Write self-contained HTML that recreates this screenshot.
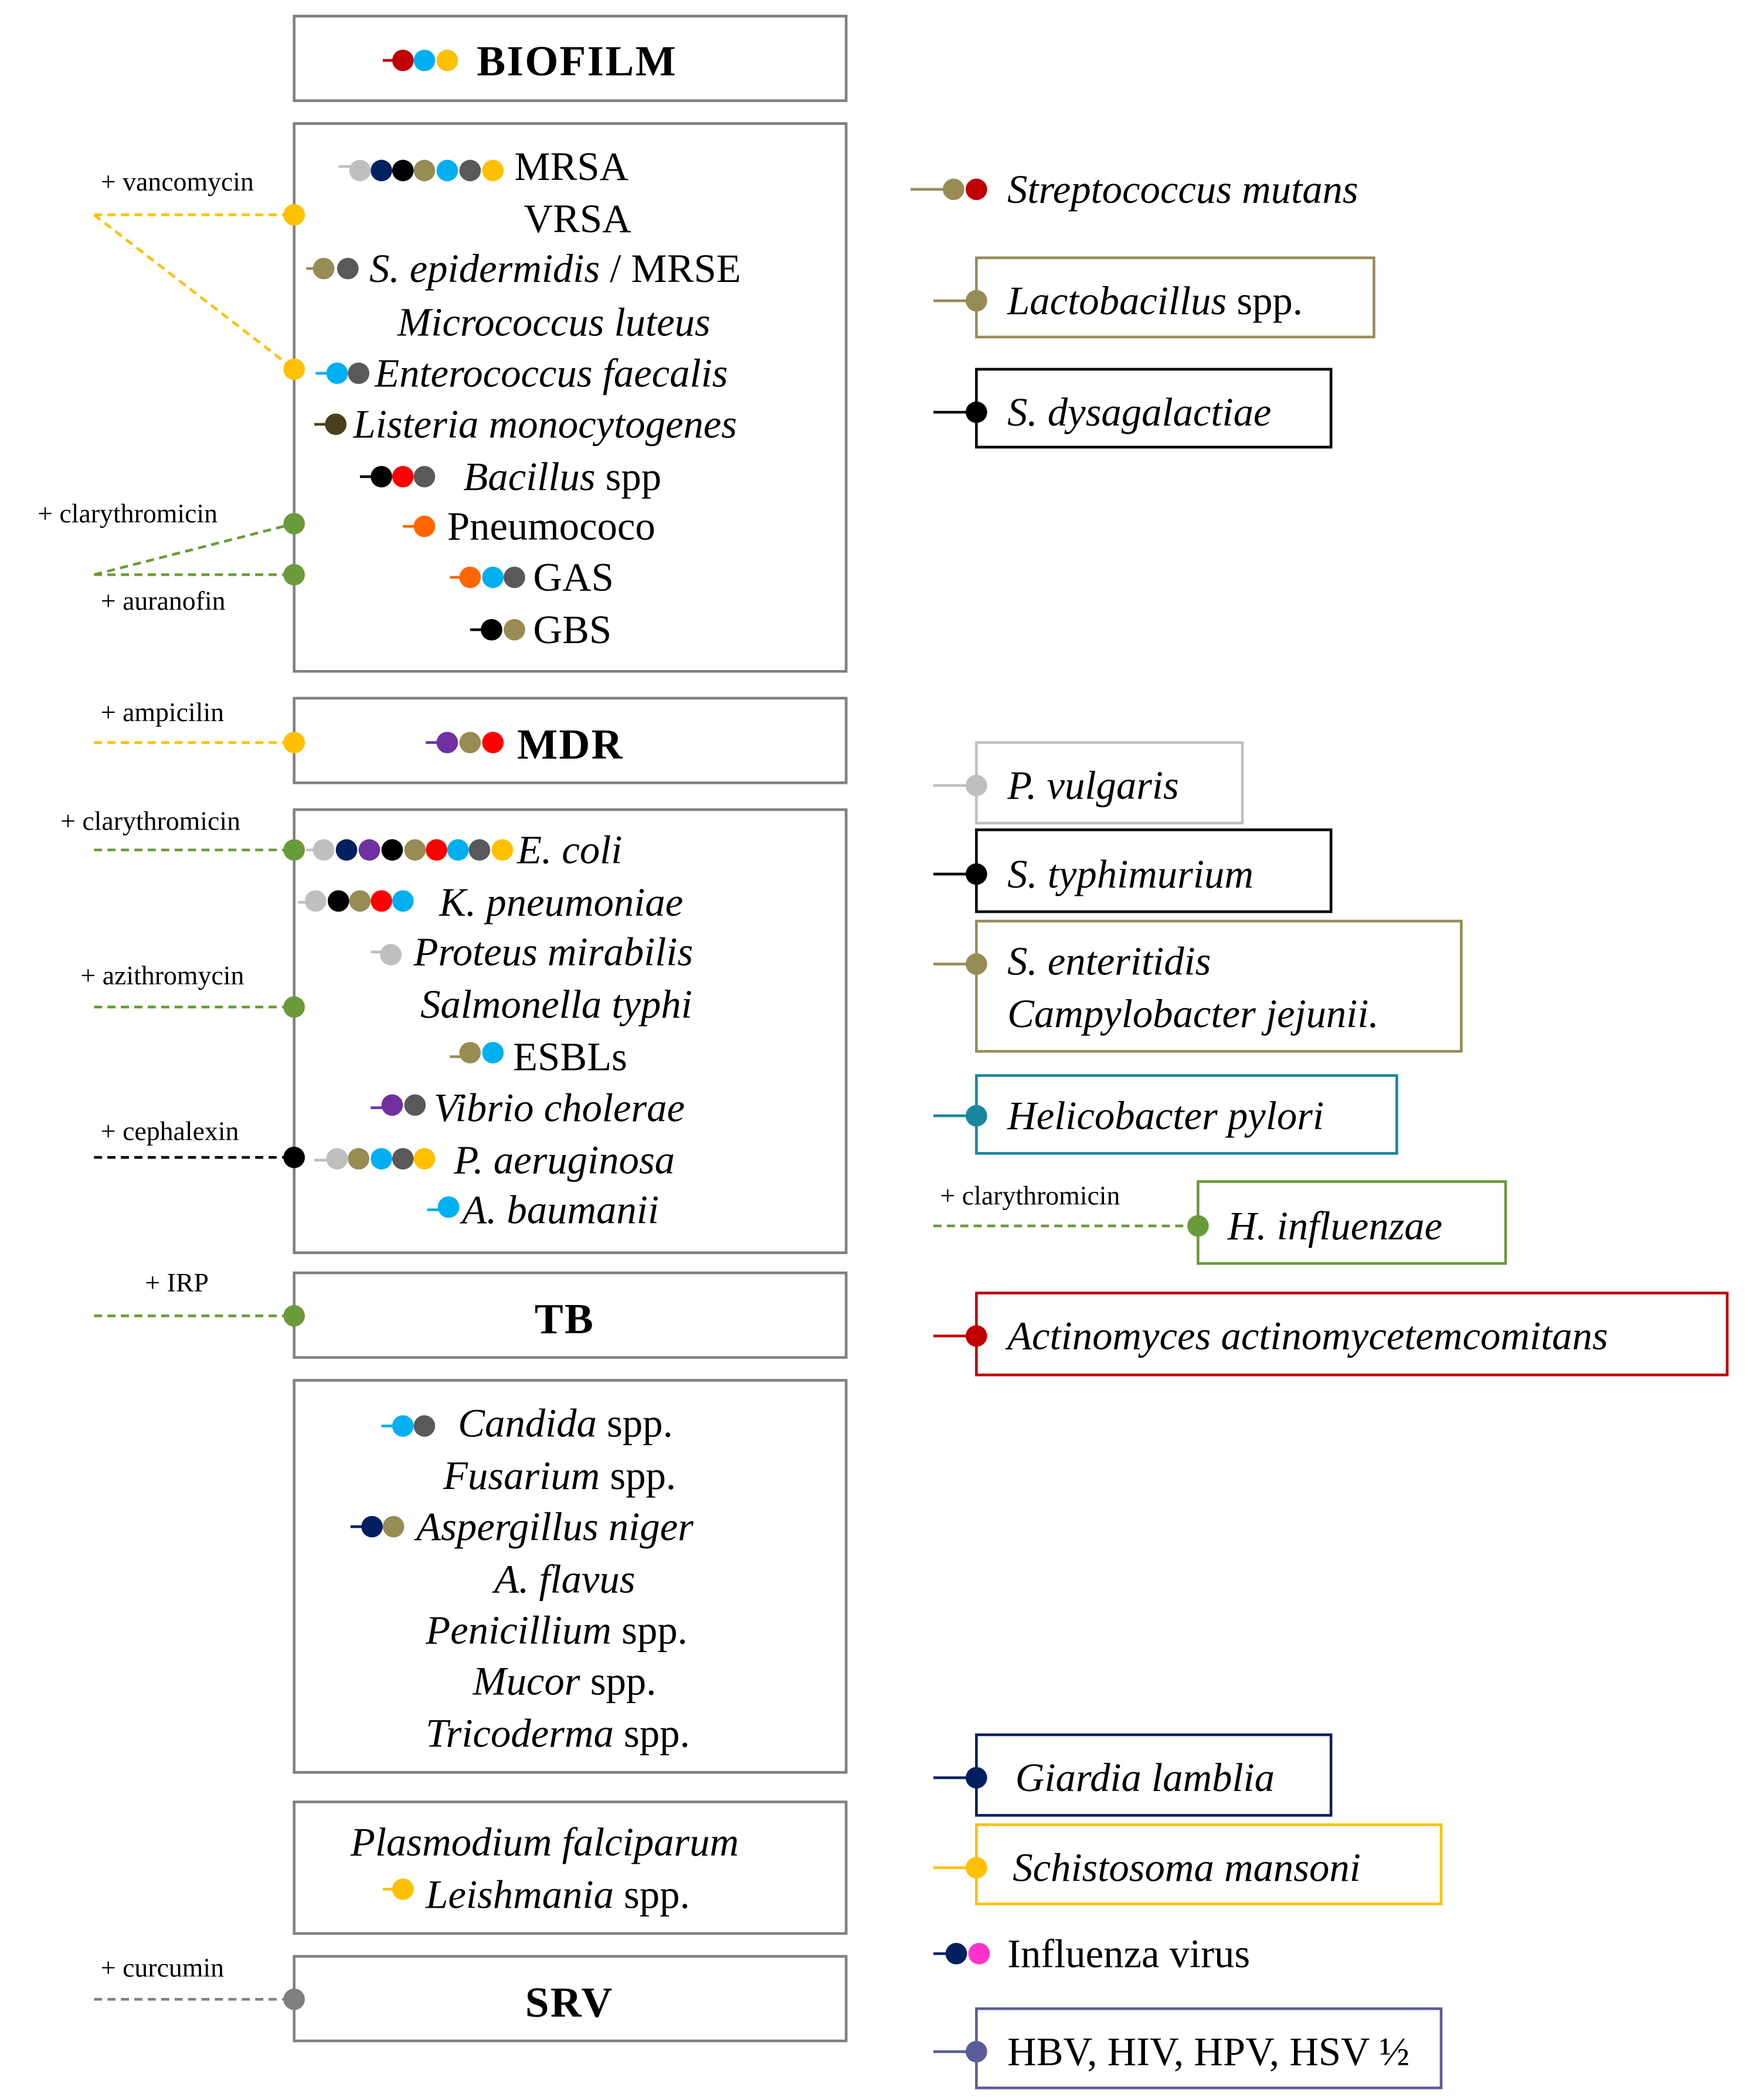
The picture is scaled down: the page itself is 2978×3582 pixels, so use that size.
<!DOCTYPE html>
<html><head><meta charset="utf-8"><style>
html,body{margin:0;padding:0;background:#fff}
svg{display:block}
text{font-family:"Liberation Serif",serif;fill:#000}
.t{font-size:30px}
.i{font-style:italic}
.s{font-size:20px}
.b{font-weight:bold;font-size:32px;letter-spacing:1px}
</style></head><body>
<svg width="2978" height="3582" viewBox="0 0 1300 1564" preserveAspectRatio="none" xmlns="http://www.w3.org/2000/svg">
<g fill="none" stroke="#808080" stroke-width="2">
<rect x="219" y="12" width="411" height="63"/>
<rect x="219" y="92" width="411" height="408"/>
<rect x="219" y="520" width="411" height="63"/>
<rect x="219" y="603" width="411" height="330"/>
<rect x="219" y="948" width="411" height="63"/>
<rect x="219" y="1028" width="411" height="292"/>
<rect x="219" y="1342" width="411" height="98"/>
<rect x="219" y="1457" width="411" height="63"/>
</g>
<g fill="none" stroke-width="2">
<rect x="727" y="192" width="296" height="59" stroke="#978c54"/>
<rect x="727" y="275" width="264" height="58" stroke="#000"/>
<rect x="727" y="553" width="198" height="60" stroke="#bfbfbf"/>
<rect x="727" y="618" width="264" height="61" stroke="#000"/>
<rect x="727" y="686" width="361" height="97" stroke="#978c54"/>
<rect x="727" y="801" width="313" height="58" stroke="#17869e"/>
<rect x="892" y="880" width="229" height="61" stroke="#6a9a3a"/>
<rect x="727" y="963" width="559" height="61" stroke="#c00000"/>
<rect x="727" y="1292" width="264" height="60" stroke="#002060"/>
<rect x="727" y="1359" width="346" height="59" stroke="#ffc000"/>
<rect x="727" y="1496" width="346" height="59" stroke="#5c5c9a"/>
</g>
<!-- left dashed connectors -->
<g fill="none" stroke-width="2" stroke-dasharray="6,4">
<path d="M70 160H219M70 160L219 275" stroke="#ffc000"/>
<path d="M70 428L219 390M70 428H219" stroke="#6a9a3a"/>
<path d="M70 553H219" stroke="#ffc000"/>
<path d="M70 633H219" stroke="#6a9a3a"/>
<path d="M70 750H219" stroke="#6a9a3a"/>
<path d="M70 862H219" stroke="#000"/>
<path d="M70 980H219" stroke="#6a9a3a"/>
<path d="M70 1489H219" stroke="#7f7f7f"/>
<path d="M695 913H892" stroke="#6a9a3a"/>
</g>
<g>
<circle cx="219" cy="160" r="8" fill="#ffc000"/>
<circle cx="219" cy="275" r="8" fill="#ffc000"/>
<circle cx="219" cy="390" r="8" fill="#6a9a3a"/>
<circle cx="219" cy="428" r="8" fill="#6a9a3a"/>
<circle cx="219" cy="553" r="8" fill="#ffc000"/>
<circle cx="219" cy="633" r="8" fill="#6a9a3a"/>
<circle cx="219" cy="750" r="8" fill="#6a9a3a"/>
<circle cx="219" cy="862" r="8" fill="#000"/>
<circle cx="219" cy="980" r="8" fill="#6a9a3a"/>
<circle cx="219" cy="1489" r="8" fill="#7f7f7f"/>
<circle cx="892" cy="913" r="8" fill="#6a9a3a"/>
</g>
<g class="s">
<text class="s" x="75" y="142">+ vancomycin</text>
<text class="s" x="28" y="389">+ clarythromicin</text>
<text class="s" x="75" y="454">+ auranofin</text>
<text class="s" x="75" y="537">+ ampicilin</text>
<text class="s" x="45" y="618">+ clarythromicin</text>
<text class="s" x="60" y="733">+ azithromycin</text>
<text class="s" x="75" y="849">+ cephalexin</text>
<text class="s" x="108" y="962">+ IRP</text>
<text class="s" x="75" y="1472">+ curcumin</text>
<text class="s" x="700" y="897">+ clarythromicin</text>
</g>
<!-- right stubs -->
<g stroke-width="2">
<path d="M678 141H710" stroke="#978c54"/>
<path d="M695 224H727" stroke="#978c54"/>
<path d="M695 307H727" stroke="#000"/>
<path d="M695 585H727" stroke="#bfbfbf"/>
<path d="M695 651H727" stroke="#000"/>
<path d="M695 718H727" stroke="#978c54"/>
<path d="M695 831H727" stroke="#17869e"/>
<path d="M695 995H727" stroke="#c00000"/>
<path d="M695 1324H727" stroke="#002060"/>
<path d="M695 1391H727" stroke="#ffc000"/>
<path d="M695 1455H712" stroke="#002060"/>
<path d="M695 1528H727" stroke="#5c5c9a"/>
</g>
<circle cx="710" cy="141" r="8" fill="#978c54"/><circle cx="727" cy="141" r="8" fill="#c00000"/>
<circle cx="727" cy="224" r="8" fill="#978c54"/>
<circle cx="727" cy="307" r="8" fill="#000"/>
<circle cx="727" cy="585" r="8" fill="#bfbfbf"/>
<circle cx="727" cy="651" r="8" fill="#000"/>
<circle cx="727" cy="718" r="8" fill="#978c54"/>
<circle cx="727" cy="831" r="8" fill="#17869e"/>
<circle cx="727" cy="995" r="8" fill="#c00000"/>
<circle cx="727" cy="1324" r="8" fill="#002060"/>
<circle cx="727" cy="1391" r="8" fill="#ffc000"/>
<circle cx="712" cy="1455" r="8" fill="#002060"/><circle cx="729" cy="1455" r="8" fill="#ff33cc"/>
<circle cx="727" cy="1528" r="8" fill="#5c5c9a"/>
<!-- right texts -->
<text class="t i" x="750" y="151">Streptococcus mutans</text>
<text class="t" x="750" y="234"><tspan class="i">Lactobacillus</tspan> spp.</text>
<text class="t i" x="750" y="317">S. dysagalactiae</text>
<text class="t i" x="750" y="595">P. vulgaris</text>
<text class="t i" x="750" y="661">S. typhimurium</text>
<text class="t i" x="750" y="726">S. enteritidis</text>
<text class="t i" x="750" y="765">Campylobacter jejunii.</text>
<text class="t i" x="750" y="841">Helicobacter pylori</text>
<text class="t i" x="914" y="923">H. influenzae</text>
<text class="t i" x="750" y="1005">Actinomyces actinomycetemcomitans</text>
<text class="t i" x="756" y="1334">Giardia lamblia</text>
<text class="t i" x="754" y="1401">Schistosoma mansoni</text>
<text class="t" x="750" y="1465">Influenza virus</text>
<text class="t" x="750" y="1538">HBV, HIV, HPV, HSV ½</text>
<!-- dot chains in boxes -->
<g stroke-width="2">
<path d="M285 45H300" stroke="#c00000"/>
<path d="M252 124H268" stroke="#bfbfbf"/>
<path d="M228 200H241" stroke="#978c54"/>
<path d="M235 278H251" stroke="#00b0f0"/>
<path d="M234 316H250" stroke="#4a3f1f"/>
<path d="M268 355H284" stroke="#000"/>
<path d="M300 392H316" stroke="#ff6600"/>
<path d="M335 430H350" stroke="#ff6600"/>
<path d="M350 469H366" stroke="#000"/>
<path d="M317 553H333" stroke="#7030a0"/>
<path d="M228 633H241" stroke="#bfbfbf"/>
<path d="M222 672H235" stroke="#bfbfbf"/>
<path d="M276 709H291" stroke="#bfbfbf"/>
<path d="M335 787H350" stroke="#978c54"/>
<path d="M276 825H292" stroke="#7030a0"/>
<path d="M234 864H251" stroke="#bfbfbf"/>
<path d="M318 901H334" stroke="#00b0f0"/>
<path d="M284 1062H300" stroke="#00b0f0"/>
<path d="M261 1137H277" stroke="#002060"/>
<path d="M285 1407H300" stroke="#ffc000"/>
</g>
<g>
<circle cx="300" cy="45" r="8" fill="#c00000"/><circle cx="316" cy="45" r="8" fill="#00b0f0"/><circle cx="333" cy="45" r="8" fill="#ffc000"/>
<circle cx="268" cy="127" r="8" fill="#bfbfbf"/><circle cx="284" cy="127" r="8" fill="#002060"/><circle cx="300" cy="127" r="8" fill="#000"/><circle cx="316" cy="127" r="8" fill="#978c54"/><circle cx="333" cy="127" r="8" fill="#00b0f0"/><circle cx="350" cy="127" r="8" fill="#595959"/><circle cx="367" cy="127" r="8" fill="#ffc000"/>
<circle cx="241" cy="200" r="8" fill="#978c54"/><circle cx="259" cy="200" r="8" fill="#595959"/>
<circle cx="251" cy="278" r="8" fill="#00b0f0"/><circle cx="267" cy="278" r="8" fill="#595959"/>
<circle cx="250" cy="316" r="8" fill="#4a3f1f"/>
<circle cx="284" cy="355" r="8" fill="#000"/><circle cx="300" cy="355" r="8" fill="#ff0000"/><circle cx="316" cy="355" r="8" fill="#595959"/>
<circle cx="316" cy="392" r="8" fill="#ff6600"/>
<circle cx="350" cy="430" r="8" fill="#ff6600"/><circle cx="367" cy="430" r="8" fill="#00b0f0"/><circle cx="383" cy="430" r="8" fill="#595959"/>
<circle cx="366" cy="469" r="8" fill="#000"/><circle cx="383" cy="469" r="8" fill="#978c54"/>
<circle cx="333" cy="553" r="8" fill="#7030a0"/><circle cx="350" cy="553" r="8" fill="#978c54"/><circle cx="367" cy="553" r="8" fill="#ff0000"/>
<circle cx="241" cy="633" r="8" fill="#bfbfbf"/><circle cx="258" cy="633" r="8" fill="#002060"/><circle cx="275" cy="633" r="8" fill="#7030a0"/><circle cx="292" cy="633" r="8" fill="#000"/><circle cx="309" cy="633" r="8" fill="#978c54"/><circle cx="325" cy="633" r="8" fill="#ff0000"/><circle cx="341" cy="633" r="8" fill="#00b0f0"/><circle cx="357" cy="633" r="8" fill="#595959"/><circle cx="374" cy="633" r="8" fill="#ffc000"/>
<circle cx="235" cy="671" r="8" fill="#bfbfbf"/><circle cx="252" cy="671" r="8" fill="#000"/><circle cx="268" cy="671" r="8" fill="#978c54"/><circle cx="284" cy="671" r="8" fill="#ff0000"/><circle cx="300" cy="671" r="8" fill="#00b0f0"/>
<circle cx="291" cy="711" r="8" fill="#bfbfbf"/>
<circle cx="350" cy="784" r="8" fill="#978c54"/><circle cx="367" cy="784" r="8" fill="#00b0f0"/>
<circle cx="292" cy="823" r="8" fill="#7030a0"/><circle cx="309" cy="823" r="8" fill="#595959"/>
<circle cx="251" cy="863" r="8" fill="#bfbfbf"/><circle cx="267" cy="863" r="8" fill="#978c54"/><circle cx="284" cy="863" r="8" fill="#00b0f0"/><circle cx="300" cy="863" r="8" fill="#595959"/><circle cx="316" cy="863" r="8" fill="#ffc000"/>
<circle cx="334" cy="899" r="8" fill="#00b0f0"/>
<circle cx="300" cy="1062" r="8" fill="#00b0f0"/><circle cx="316" cy="1062" r="8" fill="#595959"/>
<circle cx="277" cy="1137" r="8" fill="#002060"/><circle cx="293" cy="1137" r="8" fill="#978c54"/>
<circle cx="300" cy="1407" r="8" fill="#ffc000"/>
</g>
<!-- box texts -->
<text class="b" x="355" y="56">BIOFILM</text>
<text class="b" x="385" y="565">MDR</text>
<text class="b" x="398" y="993">TB</text>
<text class="b" x="391" y="1502">SRV</text>
<text class="t" x="383" y="134">MRSA</text>
<text class="t" x="390" y="173">VRSA</text>
<text class="t" x="275" y="210"><tspan class="i">S. epidermidis</tspan> / MRSE</text>
<text class="t i" x="296" y="250">Micrococcus luteus</text>
<text class="t i" x="279" y="288">Enterococcus faecalis</text>
<text class="t i" x="263" y="326">Listeria monocytogenes</text>
<text class="t" x="345" y="365"><tspan class="i">Bacillus</tspan> spp</text>
<text class="t" x="333" y="402">Pneumococo</text>
<text class="t" x="397" y="440">GAS</text>
<text class="t" x="397" y="479">GBS</text>
<text class="t i" x="385" y="643">E. coli</text>
<text class="t i" x="327" y="682">K. pneumoniae</text>
<text class="t i" x="308" y="719">Proteus mirabilis</text>
<text class="t i" x="313" y="758">Salmonella typhi</text>
<text class="t" x="382" y="797">ESBLs</text>
<text class="t i" x="323" y="835">Vibrio cholerae</text>
<text class="t i" x="338" y="874">P. aeruginosa</text>
<text class="t i" x="344" y="911">A. baumanii</text>
<text class="t" x="341" y="1070"><tspan class="i">Candida</tspan> spp.</text>
<text class="t" x="330" y="1109"><tspan class="i">Fusarium</tspan> spp.</text>
<text class="t i" x="310" y="1147">Aspergillus niger</text>
<text class="t i" x="368" y="1186">A. flavus</text>
<text class="t" x="317" y="1224"><tspan class="i">Penicillium</tspan> spp.</text>
<text class="t" x="352" y="1262"><tspan class="i">Mucor</tspan> spp.</text>
<text class="t" x="317" y="1301"><tspan class="i">Tricoderma</tspan> spp.</text>
<text class="t i" x="261" y="1382">Plasmodium falciparum</text>
<text class="t" x="317" y="1421"><tspan class="i">Leishmania</tspan> spp.</text>
</svg>
</body></html>
